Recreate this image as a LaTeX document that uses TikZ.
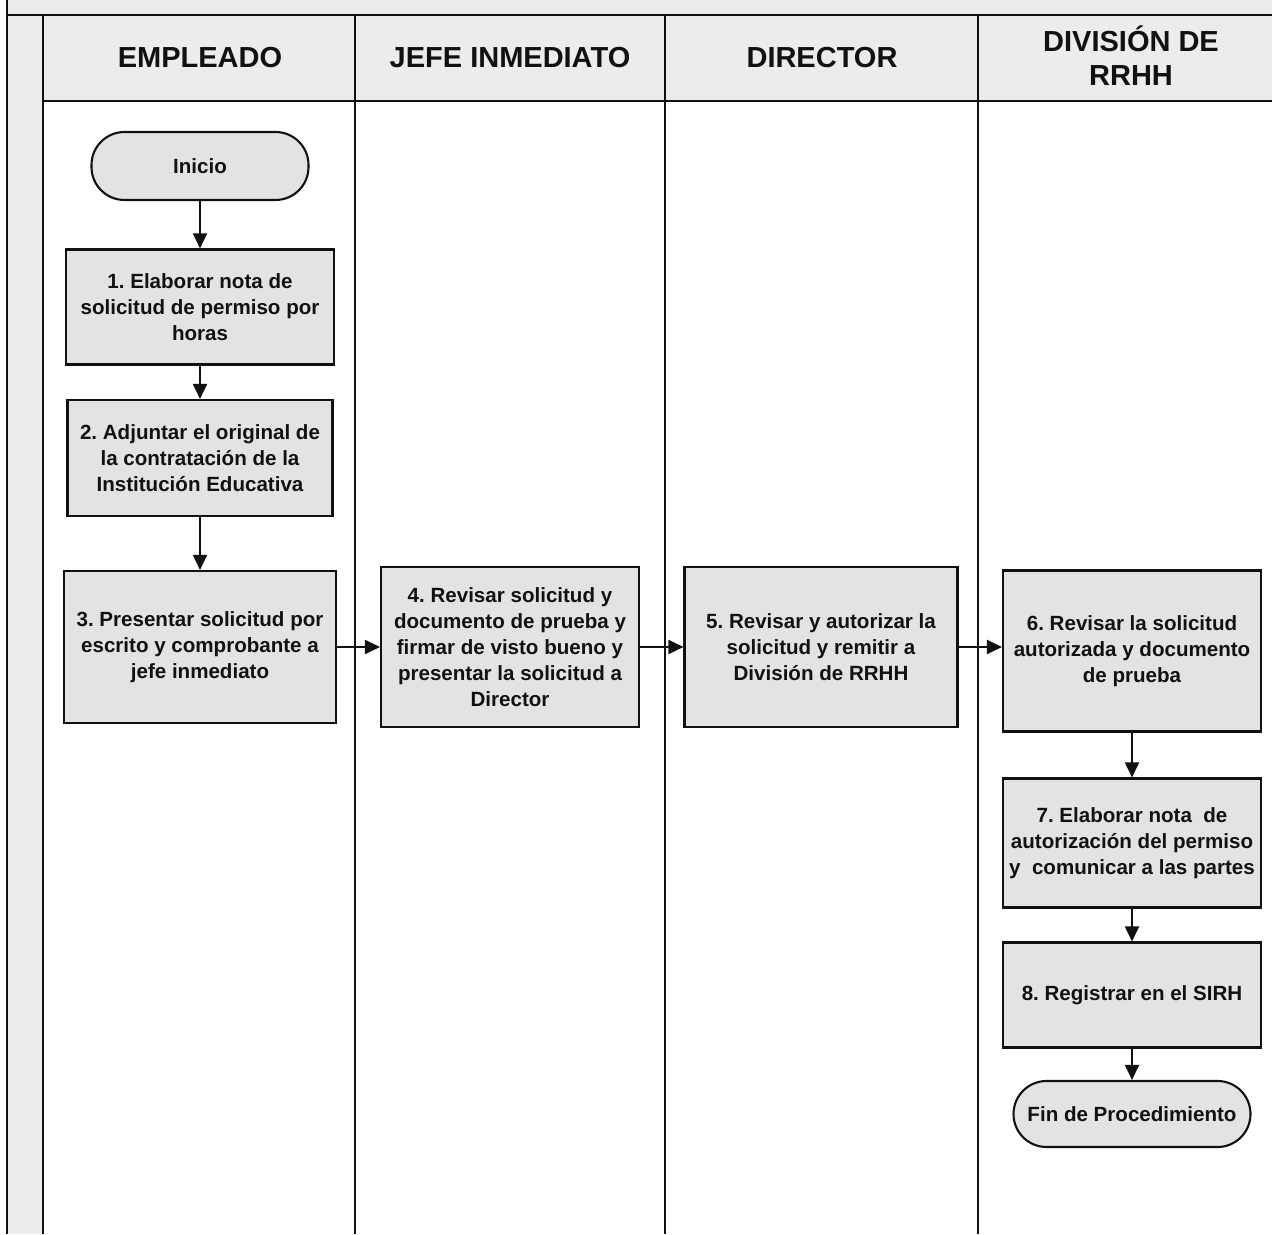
\documentclass[tikz,border=0pt]{standalone}
\usepackage{fontspec}
\setmainfont{Liberation Sans}
\frenchspacing
\usetikzlibrary{arrows.meta,positioning}
\definecolor{flowink}{HTML}{111111}
\definecolor{flowfill}{HTML}{E3E3E3}
\definecolor{lanefill}{HTML}{ECECEC}
\tikzset{
  lanetitle/.style={font=\fontsize{16.5}{19.4}\selectfont\bfseries, text=flowink, align=center},
  stepbox/.style={draw=flowink, fill=flowfill, line width=1.2pt,
    font=\fontsize{11.7}{14.8}\selectfont\bfseries, text=flowink, align=center,
    inner xsep=1pt, inner ysep=2pt},
  termbox/.style={stepbox, rounded corners=6.6mm},
  laneline/.style={draw=flowink, line width=1.3pt},
  flowarrow/.style={-{Triangle[length=3mm,width=2.8mm]}, draw=flowink, line width=1.1pt}
}
\begin{document}
\begin{tikzpicture}[x=1cm,y=1cm]
  \useasboundingbox (0,0) rectangle (25.44,24.68);
  % lanes and header band
  \fill[lanefill] (0.14,0) rectangle (0.86,24.68);
  \fill[lanefill] (0.14,24.38) rectangle (25.44,24.68);
  \fill[lanefill] (0.86,22.66) rectangle (25.44,24.38);
  \draw[laneline] (0.14,0) -- (0.14,24.68);
  \draw[laneline] (0.14,24.38) -- (25.44,24.38);
  \draw[laneline] (0.86,22.66) -- (25.44,22.66);
  \foreach \x in {0.86,7.10,13.30,19.56} {
    \draw[laneline] (\x,0) -- (\x,24.38);
  }

  \node[lanetitle] (hEmpleado) at (4.00,23.53) {EMPLEADO};
  \node[lanetitle] (hJefe) at (10.20,23.53) {JEFE INMEDIATO};
  \node[lanetitle] (hDirector) at (16.44,23.53) {DIRECTOR};
  \node[lanetitle] (hDivision) at (22.62,23.56) {DIVISIÓN DE\\RRHH};

  % empleado
  \node[termbox, minimum width=4.34cm, minimum height=1.36cm] (inicio) at (4.00,21.36) {Inicio};
  \node[stepbox, minimum width=5.36cm, minimum height=2.30cm] (paso1) at (4.00,18.54)
    {1. Elaborar nota de\\solicitud de permiso por\\horas};
  \node[stepbox, minimum width=5.30cm, minimum height=2.32cm] (paso2) at (4.00,15.52)
    {2. Adjuntar el original de\\la contratación de la\\Institución Educativa};
  \node[stepbox, minimum width=5.44cm, minimum height=3.04cm] (paso3) at (4.00,11.74)
    {3. Presentar solicitud por\\escrito y comprobante a\\jefe inmediato};

  % jefe y director
  \node[stepbox, minimum width=5.16cm, minimum height=3.20cm] (paso4) at (10.20,11.74)
    {4. Revisar solicitud y\\documento de prueba y\\firmar de visto bueno y\\presentar la solicitud a\\Director};
  \node[stepbox, minimum width=5.46cm, minimum height=3.20cm] (paso5) at (16.42,11.74)
    {5. Revisar y autorizar la\\solicitud y remitir a\\División de RRHH};

  % division de rrhh
  \node[stepbox, minimum width=5.16cm, minimum height=3.22cm] (paso6) at (22.64,11.66)
    {6. Revisar la solicitud\\autorizada y documento\\de prueba};
  \node[stepbox, minimum width=5.16cm, minimum height=2.58cm] (paso7) at (22.64,7.82)
    {7. Elaborar nota~ de\\autorización del permiso\\y~ comunicar a las partes};
  \node[stepbox, minimum width=5.16cm, minimum height=2.10cm] (paso8) at (22.64,4.78)
    {8. Registrar en el SIRH};
  \node[termbox, minimum width=4.74cm, minimum height=1.32cm] (fin) at (22.64,2.40)
    {Fin de Procedimiento};

  \draw[flowarrow] (inicio) -- (paso1);
  \draw[flowarrow] (paso1) -- (paso2);
  \draw[flowarrow] (paso2) -- (paso3);
  \draw[flowarrow] (paso3) -- (paso4);
  \draw[flowarrow] (paso4) -- (paso5);
  \draw[flowarrow] (paso5.east) -- (paso5.east -| paso6.west);
  \draw[flowarrow] (paso6) -- (paso7);
  \draw[flowarrow] (paso7) -- (paso8);
  \draw[flowarrow] (paso8) -- (fin);
\end{tikzpicture}
\end{document}
